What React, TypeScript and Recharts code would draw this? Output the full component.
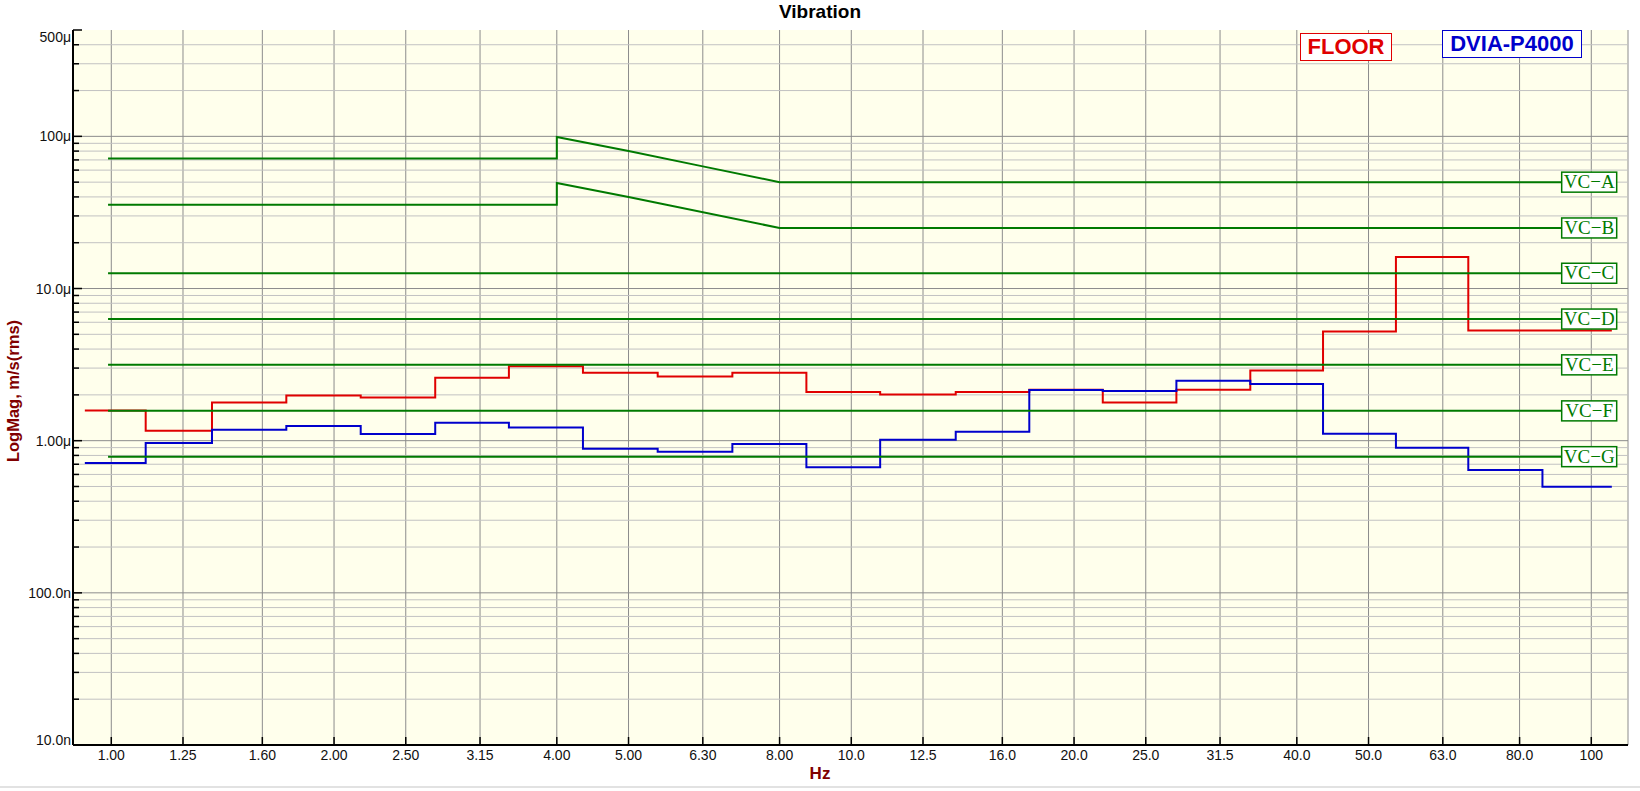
import { CartesianGrid, ComposedChart, LabelList, Legend, Line, ReferenceLine, XAxis, YAxis } from 'recharts';

const bandEdges = [
  0.921, 1.113, 1.368, 1.724, 2.173, 2.74, 3.446, 4.339, 5.475, 6.907, 8.696, 10.94, 13.84, 17.4, 21.87,
  27.5, 34.61, 43.4, 54.45, 68.2, 85.9, 106.6,
];

// velocity per band, um/s rms
const floorLevels = [
  1.58, 1.16, 1.78, 1.98, 1.92, 2.59, 3.09, 2.8, 2.64, 2.8, 2.09, 2.01, 2.09, 2.16, 1.78, 2.165, 2.89, 5.21, 16.1,
  5.29, 5.29,
];
const dviaLevels = [
  0.713, 0.966, 1.18, 1.25, 1.107, 1.31, 1.22, 0.886, 0.847, 0.951, 0.668, 1.015, 1.146, 2.15, 2.12, 2.48, 2.36,
  1.11, 0.899, 0.641, 0.498,
];

// vibration criteria curves
const vcNames = ['VC\u2212A', 'VC\u2212B', 'VC\u2212C', 'VC\u2212D', 'VC\u2212E', 'VC\u2212F', 'VC\u2212G'];
const vcAFreq = [0.99, 4, 4, 5, 6.3, 8, 91.2];
const vcALevels = [71.6, 71.6, 99, 80, 63.5, 50, 50];
const vcBFreq = [0.99, 4, 4, 5, 8, 91.2];
const vcBLevels = [35.5, 35.5, 49.4, 39.9, 25, 25];
const vcFlatFreq = [0.99, 91.2];
const vcFlatLevels = [12.6, 6.3, 3.15, 1.57, 0.785];

const freqTicks = [1, 1.25, 1.6, 2, 2.5, 3.15, 4, 5, 6.3, 8, 10, 12.5, 16, 20, 25, 31.5, 40, 50, 63, 80, 100];
const freqLabels = [
  '1.00', '1.25', '1.60', '2.00', '2.50', '3.15', '4.00', '5.00', '6.30', '8.00', '10.0', '12.5', '16.0', '20.0',
  '25.0', '31.5', '40.0', '50.0', '63.0', '80.0', '100',
];

const majorTicks = [0.01, 0.1, 1, 10, 100, 500];
const majorLabels = ['10.0n', '100.0n', '1.00\u03bc', '10.0\u03bc', '100\u03bc', '500\u03bc'];
const minorTicks = [
  0.02, 0.03, 0.04, 0.05, 0.06, 0.07, 0.08, 0.09, 0.2, 0.3, 0.4, 0.5, 0.6, 0.7, 0.8, 0.9, 2, 3, 4, 5, 6, 7, 8, 9,
  20, 30, 40, 50, 60, 70, 80, 90, 200, 300, 400,
];

const SANS = '"Liberation Sans", Arial, sans-serif';
const SERIF = '"Liberation Serif", "Times New Roman", serif';
const RED = '#E00000';
const BLUE = '#0000CC';
const GREEN = '#007A00';

const stepData = bandEdges.map((f, i) => ({
  f,
  floor: floorLevels[Math.min(i, floorLevels.length - 1)],
  dvia: dviaLevels[Math.min(i, dviaLevels.length - 1)],
}));

const vcSeries = [
  { freq: vcAFreq, levels: vcALevels },
  { freq: vcBFreq, levels: vcBLevels },
  ...vcFlatLevels.map((v) => ({ freq: vcFlatFreq, levels: vcFlatFreq.map(() => v) })),
].map((s, i) => ({
  name: vcNames[i],
  data: s.freq.map((f, j) => ({ f, v: s.levels[j] })),
}));

const YTick = ({ x, y, payload }: any) => {
  const v = payload.value;
  const idx = majorTicks.indexOf(v);
  const major = idx >= 0;
  let ty = y + 5;
  if (v === 500) ty = y + 11.5;
  if (v === 0.01) ty = y - 0.5;
  return (
    <g>
      <line x1={x} x2={x + (major ? 9 : 6)} y1={y} y2={y} stroke="#000" strokeWidth={1.5} />
      {major && (
        <text x={x - 2} y={ty} textAnchor="end" fontSize={14} fontFamily={SANS} fill="#111">
          {majorLabels[idx]}
        </text>
      )}
    </g>
  );
};

const XTick = ({ x, y, payload }: any) => {
  const idx = freqTicks.indexOf(payload.value);
  return (
    <g>
      <line x1={x} x2={x} y1={y} y2={y - 8} stroke="#000" strokeWidth={1.5} />
      <text x={x} y={y + 14.5} textAnchor="middle" fontSize={14} fontFamily={SANS} fill="#111">
        {freqLabels[idx]}
      </text>
    </g>
  );
};

const makeVcTag = (name: string, last: number) => (props: any) => {
  if (props.index !== last) return null;
  const { x, y } = props;
  return (
    <g>
      <rect x={x} y={y - 10} width={55} height={20} fill="#FFFFFF" stroke={GREEN} strokeWidth={1.5} />
      <text x={x + 27.5} y={y + 6} textAnchor="middle" fontFamily={SERIF} fontSize={19} fill={GREEN}>
        {name}
      </text>
    </g>
  );
};

const boxStyle = {
  position: 'absolute' as const,
  boxSizing: 'border-box' as const,
  background: '#FFFFFF',
  fontFamily: SANS,
  fontWeight: 'bold' as const,
  fontSize: 22,
  display: 'flex',
  alignItems: 'center',
  justifyContent: 'center',
};

const LegendBoxes = () => (
  <div style={{ position: 'relative', width: 1640, height: 0 }}>
    <div style={{ ...boxStyle, left: 1300, top: 33, width: 92, height: 28, border: `1.5px solid ${RED}`, color: RED }}>
      FLOOR
    </div>
    <div
      style={{ ...boxStyle, left: 1442, top: 30, width: 140, height: 28, border: `1.5px solid ${BLUE}`, color: BLUE }}
    >
      DVIA-P4000
    </div>
  </div>
);

const renderHz = () => (
  <text x={820} y={779} textAnchor="middle" fontFamily={SANS} fontWeight="bold" fontSize={17} fill="#800000">
    Hz
  </text>
);

const renderYTitle = () => (
  <text
    x={19}
    y={391}
    transform="rotate(-90 19 391)"
    textAnchor="middle"
    fontFamily={SANS}
    fontWeight="bold"
    fontSize={16.5}
    fill="#800000"
  >
    LogMag, m/s(rms)
  </text>
);

export default function App() {
  return (
    <div style={{ position: 'absolute', left: 0, top: 0, width: 1640, height: 791, background: '#FFFFFF' }}>
      <div
        style={{
          position: 'absolute',
          left: 0,
          top: 1,
          width: 1640,
          textAlign: 'center',
          fontFamily: SANS,
          fontWeight: 'bold',
          fontSize: 19,
          color: '#000',
        }}
      >
        Vibration
      </div>
      <ComposedChart width={1640} height={791} data={stepData} margin={{ top: 30, right: 12, bottom: 16, left: 0 }}>
        <CartesianGrid horizontal={false} stroke="#8C8C8C" fill="#FFFFEC" />
        {minorTicks.map((v) => (
          <ReferenceLine key={`mi${v}`} y={v} stroke="#C2C2C2" strokeWidth={1} />
        ))}
        {majorTicks.slice(0, 5).map((v) => (
          <ReferenceLine key={`ma${v}`} y={v} stroke="#8C8C8C" strokeWidth={1} />
        ))}
        <XAxis
          dataKey="f"
          type="number"
          scale="log"
          domain={[0.8877, 112.1]}
          allowDataOverflow
          ticks={freqTicks}
          interval={0}
          tick={<XTick />}
          tickLine={false}
          tickSize={0}
          tickMargin={0}
          height={30}
          axisLine={{ stroke: '#000', strokeWidth: 2 }}
          label={renderHz}
        />
        <YAxis
          type="number"
          scale="log"
          domain={[0.01, 500]}
          allowDataOverflow
          ticks={[...minorTicks, ...majorTicks].sort((a, b) => a - b)}
          interval={0}
          tick={<YTick />}
          tickLine={false}
          tickSize={0}
          tickMargin={0}
          width={73}
          axisLine={{ stroke: '#000', strokeWidth: 2 }}
          label={renderYTitle}
        />
        <Line
          dataKey="floor"
          name="FLOOR"
          type="stepAfter"
          stroke={RED}
          strokeWidth={2}
          dot={false}
          activeDot={false}
          isAnimationActive={false}
        />
        <Line
          dataKey="dvia"
          name="DVIA-P4000"
          type="stepAfter"
          stroke={BLUE}
          strokeWidth={2}
          dot={false}
          activeDot={false}
          isAnimationActive={false}
        />
        {vcSeries.map((s) => (
          <Line
            key={s.name}
            data={s.data}
            dataKey="v"
            name={s.name}
            type="linear"
            stroke={GREEN}
            strokeWidth={2}
            dot={false}
            activeDot={false}
            isAnimationActive={false}
          >
            <LabelList dataKey="v" content={makeVcTag(s.name, s.data.length - 1)} />
          </Line>
        ))}
        <Legend
          content={<LegendBoxes />}
          layout="horizontal"
          verticalAlign="middle"
          align="center"
          wrapperStyle={{ position: 'absolute', left: 0, top: 0, width: 1640, height: 0, margin: 0 }}
        />
      </ComposedChart>
      <div style={{ position: 'absolute', left: 0, top: 786, width: 1640, height: 2, background: '#E2E2E2' }} />
    </div>
  );
}
